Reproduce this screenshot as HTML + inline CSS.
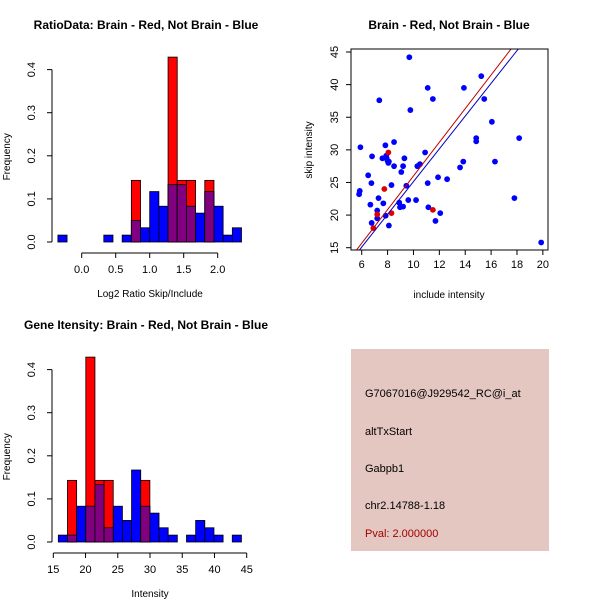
<!DOCTYPE html>
<html><head><meta charset="utf-8"><style>
body{margin:0;background:#fff}
svg{display:block;font-family:"Liberation Sans",Arial,sans-serif}
</style></head><body>
<svg id="c" width="600" height="600" viewBox="0 0 600 600">
<rect x="0" y="0" width="600" height="600" fill="#fff"/>
<rect x="351" y="349" width="198" height="202" fill="#e5c7c1"/>
<g font-size="11" fill="#000">
<text x="365" y="397">G7067016@J929542_RC@i_at</text>
<text x="365" y="435">altTxStart</text>
<text x="365" y="472">Gabpb1</text>
<text x="365" y="509">chr2.14788-1.18</text>
<text x="365" y="537" fill="#a00000">Pval: 2.000000</text>
</g>
</svg>
<script>
// ratio histogram
const ratioBinStart=-0.35, ratioBinWidth=0.135;
const ratioBlue=[0.016,0,0,0,0,0.016,0,0.016,0.05,0.033,0.117,0.083,0.133,0.133,0.083,0.067,0.117,0.083,0.016,0.033];
const ratioRed=[0,0,0,0,0,0,0,0,0.143,0,0,0,0.429,0.143,0.143,0,0.143,0,0,0];
const ratioTicks=[0,0.5,1.0,1.5,2.0];
const ratioTickLabels=["0.0","0.5","1.0","1.5","2.0"];
// intensity histogram
const intBinStart=15.78, intBinWidth=1.42;
const intBlue=[0.016,0.016,0.083,0.083,0.133,0.033,0.083,0.05,0.167,0.083,0.067,0.033,0.016,0,0.016,0.05,0.033,0.016,0,0.016];
const intRed=[0,0.143,0,0.429,0.143,0.143,0,0,0,0.143,0,0,0,0,0,0,0,0,0,0];
const intTicks=[15,20,25,30,35,40,45];
const freqTicks=[0,0.1,0.2,0.3,0.4];
const freqTickLabels=["0.0","0.1","0.2","0.3","0.4"];
// scatter
const blueX=[5.8,5.85,5.9,6.5,6.67,6.75,6.77,6.8,7.2,7.3,7.2,7.36,7.6,7.67,7.83,7.9,7.93,8.0,8.06,8.1,7.85,8.1,8.3,8.5,8.5,8.9,8.96,9.06,9.2,9.2,9.3,9.45,9.6,9.68,9.76,10.2,10.3,10.5,10.9,11.1,11.1,11.15,11.5,11.7,11.9,12.07,12.6,13.6,13.85,13.9,14.85,14.85,15.24,15.47,16.06,16.3,17.8,18.17,19.87];
const blueY=[23.2,23.7,30.4,26.1,21.6,24.9,18.8,29.0,20.7,22.6,19.5,37.6,28.7,21.8,30.7,29.1,28.7,28.3,28.0,28.2,19.9,18.4,24.6,31.2,27.5,21.9,21.2,26.6,21.3,27.5,28.7,24.5,22.3,44.2,36.1,22.3,27.5,27.8,29.6,24.9,39.5,21.2,37.8,19.1,25.8,20.3,25.5,27.3,28.2,39.5,31.8,31.3,41.3,37.8,34.3,28.2,22.6,31.8,15.8];
const redX=[6.9,7.2,7.75,8.06,8.3,11.5];
const redY=[18.0,20.1,24.0,29.6,20.3,20.8];
const redFit=[0.2,2.58], blueFit=[0.03,2.51];
const scatXTicks=[6,8,10,12,14,16,18,20];
const scatYTicks=[15,20,25,30,35,40,45];

const svg=document.getElementById('c');
const NS='http://www.w3.org/2000/svg';
function mk(tag,attrs,parent){const e=document.createElementNS(NS,tag);for(const k in attrs)e.setAttribute(k,attrs[k]);(parent||svg).appendChild(e);return e;}
function txt(x,y,s,size,opts,parent){const t=mk('text',Object.assign({x:x,y:y,'font-size':size,'text-anchor':'middle'},opts||{}),parent);t.textContent=s;return t;}

function hist(cfg){
  const g=mk('g',{});
  
  
  const X=v=>cfg.x0+(v-cfg.xv0)*cfg.xs;
  const Y=v=>cfg.y0-v*cfg.ys;
  for(let i=0;i<cfg.blue.length;i++){
    const a=X(cfg.start+i*cfg.w), b=X(cfg.start+(i+1)*cfg.w);
    const bv=cfg.blue[i], rv=cfg.red[i], mn=Math.min(bv,rv);
    if(bv>0){const r=mk('rect',{x:a,y:Y(bv),width:b-a,height:Y(0)-Y(bv),fill:'#0000ff',stroke:'#000','stroke-width':0.8},g);
      }
    if(rv>0){const r=mk('rect',{x:a,y:Y(rv),width:b-a,height:Y(0)-Y(rv),fill:'#ff0000',stroke:'#000','stroke-width':0.8},g);
      }
    if(mn>0){const r=mk('rect',{x:a,y:Y(mn),width:b-a,height:Y(0)-Y(mn),fill:'#800080',stroke:'#000','stroke-width':0.8},g);
      }
  }
  const ya=mk('g',{},g);
  mk('line',{x1:cfg.yAxisX,x2:cfg.yAxisX,y1:Y(freqTicks[0]),y2:Y(freqTicks[freqTicks.length-1]),stroke:'#000'},ya);
  freqTicks.forEach((t,i)=>{mk('line',{x1:cfg.yAxisX-5,x2:cfg.yAxisX,y1:Y(t),y2:Y(t),stroke:'#000'},ya);
    const l=txt(0,0,freqTickLabels[i],11,{transform:`translate(${cfg.yAxisX-17},${Y(t)}) rotate(-90)`},ya);
    });
  const yt=txt(0,0,'Frequency',10,{transform:`translate(10,${(Y(0)+Y(0.4))/2+1}) rotate(-90)`},g);
  
  const xa=mk('g',{},g);
  const ay=cfg.y0+11;
  mk('line',{x1:X(cfg.ticks[0]),x2:X(cfg.ticks[cfg.ticks.length-1]),y1:ay,y2:ay,stroke:'#000'},xa);
  cfg.ticks.forEach((t,i)=>{mk('line',{x1:X(t),x2:X(t),y1:ay,y2:ay+5,stroke:'#000'},xa);
    const l=txt(X(t),ay+20,cfg.labels[i],11,{},xa);});
  const xt=txt(150,ay+44,cfg.xtitle,10,{},g);
  const tt=txt(146,cfg.titleY,cfg.title,12,{'font-weight':'bold'},g);
}
hist({name:'ratio-histogram',blue:ratioBlue,red:ratioRed,start:ratioBinStart,w:ratioBinWidth,x0:81.7,xv0:0,xs:68,y0:242,ys:431,yAxisX:52,
  ticks:ratioTicks,labels:ratioTickLabels,xtitle:'Log2 Ratio Skip/Include',title:'RatioData: Brain - Red, Not Brain - Blue',titleY:29});
hist({name:'intensity-histogram',blue:intBlue,red:intRed,start:intBinStart,w:intBinWidth,x0:53.3,xv0:15,xs:6.447,y0:542,ys:431,yAxisX:52,
  ticks:intTicks,labels:intTicks.map(String),xtitle:'Intensity',title:'Gene Itensity: Brain - Red, Not Brain - Blue',titleY:329});

(function(){
  const g=mk('g',{});
  
  
  const X=v=>361.7+(v-6)*12.94;
  const Y=v=>247.7-(v-15)*6.523;
  const L=351,R=548,T=49,B=250;
  const cp=mk('clipPath',{id:'sc'},g);mk('rect',{x:L,y:T,width:R-L,height:B-T},cp);
  const pts=mk('g',{},g);
  blueX.forEach((x,i)=>{const c=mk('circle',{cx:X(x),cy:Y(blueY[i]),r:2.9,fill:'#0000ff'},pts);
    });
  redX.forEach((x,i)=>{const c=mk('circle',{cx:X(x),cy:Y(redY[i]),r:2.9,fill:'#e00000'},pts);
    });
  const lg=mk('g',{'clip-path':'url(#sc)'},g);
  const rl=mk('line',{x1:X(5),y1:Y(redFit[0]+redFit[1]*5),x2:X(21),y2:Y(redFit[0]+redFit[1]*21),stroke:'#c00000','stroke-width':1},lg);
  
  const bl=mk('line',{x1:X(5),y1:Y(blueFit[0]+blueFit[1]*5),x2:X(21),y2:Y(blueFit[0]+blueFit[1]*21),stroke:'#0000c0','stroke-width':1},lg);
  
  const box=mk('rect',{x:L,y:T,width:R-L,height:B-T,fill:'none',stroke:'#000'},g);
  
  const xa=mk('g',{},g);
  scatXTicks.forEach(t=>{mk('line',{x1:X(t),x2:X(t),y1:B,y2:B+5,stroke:'#000'},xa);
    const l=txt(X(t),B+18,String(t),11,{},xa);});
  const ya=mk('g',{},g);
  scatYTicks.forEach(t=>{mk('line',{x1:L-5,x2:L,y1:Y(t),y2:Y(t),stroke:'#000'},ya);
    const l=txt(0,0,String(t),11,{transform:`translate(${L-13},${Y(t)}) rotate(-90)`},ya);
    });
  const xt=txt(449,298,'include intensity',10,{},g);
  const yt=txt(0,0,'skip intensity',10,{transform:`translate(312,150) rotate(-90)`},g);
  const tt=txt(449,29,'Brain - Red, Not Brain - Blue',12,{'font-weight':'bold'},g);
})();
</script>
</body></html>
